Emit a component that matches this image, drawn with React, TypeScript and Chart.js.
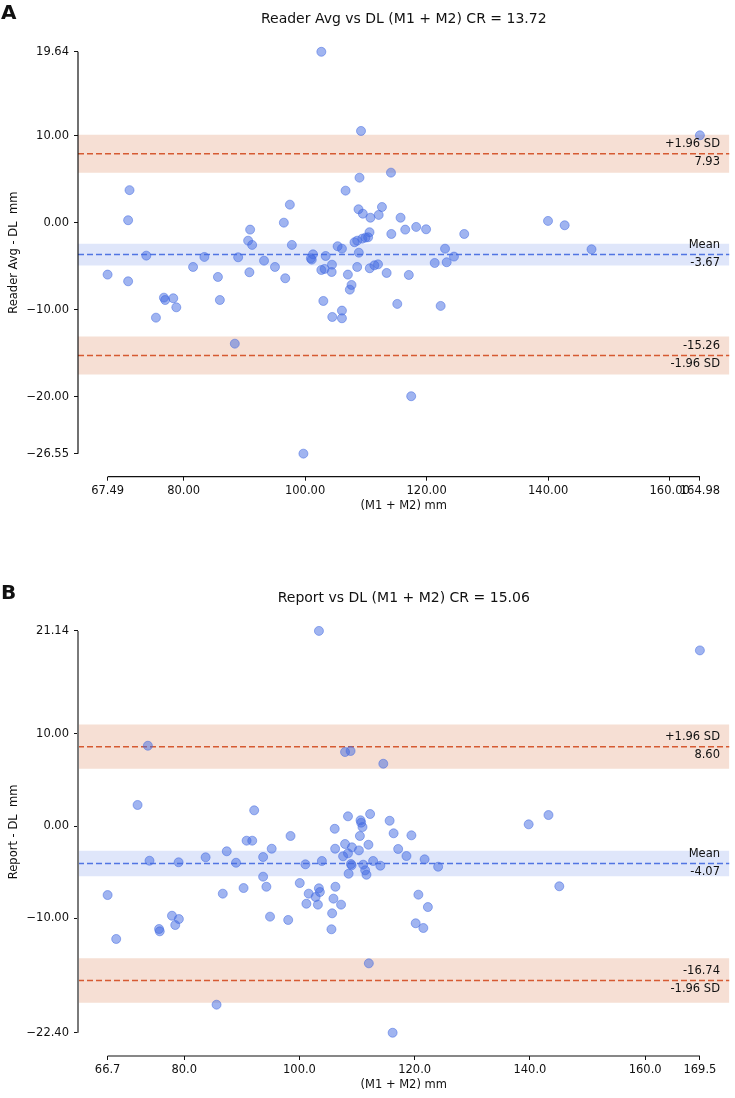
import React, { useEffect, useRef } from "react";
import { Chart, registerables } from "chart.js";
Chart.register(...registerables);

const FONT = "'DejaVu Sans', 'Liberation Sans', sans-serif";

// ---------- Panel A: Reader Avg vs DL ----------
const aAvg = [
  102.67, 109.2, 164.98, 114.13, 108.95, 71.1, 106.66, 97.49, 112.65, 108.79,
  109.5, 112.11, 110.75, 115.71, 70.87, 139.98, 96.5, 142.72, 118.28, 119.91,
  90.95, 116.48, 110.6, 114.19, 126.19, 110.37, 109.94, 109.4, 90.62, 108.57,
  108.13, 91.28, 97.82, 105.35, 106.06, 123.03, 147.14, 108.84, 101.3, 73.86,
  103.38, 124.5, 83.42, 88.98, 100.95, 101.1, 93.24, 123.3, 121.33, 112.0,
  104.42, 111.4, 95.04, 81.56, 108.57, 110.64, 103.2, 102.67, 104.37, 90.83,
  113.42, 67.49, 107.04, 117.07, 85.65, 96.73, 70.87, 107.64, 107.36, 76.76,
  78.3, 76.97, 85.97, 103.0, 115.17, 122.31, 78.8, 106.06, 104.47, 75.45,
  106.06, 88.43, 117.46, 99.72,
];
const aDiff = [
  19.64, 10.54, 10.04, 5.75, 5.17, 3.74, 3.68, 2.07, 1.8, 1.54,
  1.03, 0.89, 0.57, 0.57, 0.28, 0.2, 0.0, -0.3, -0.49, -0.76,
  -0.8, -0.8, -1.1, -1.3, -1.3, -1.68, -1.72, -1.84, -2.07, -2.07,
  -2.25, -2.56, -2.56, -2.71, -2.99, -2.99, -3.06, -3.45, -3.64, -3.79,
  -3.83, -3.9, -3.94, -3.98, -4.1, -4.25, -4.37, -4.55, -4.63, -4.79,
  -4.83, -4.9, -5.09, -5.09, -5.09, -5.24, -5.32, -5.44, -5.67, -5.7,
  -5.78, -5.97, -5.97, -6.01, -6.24, -6.39, -6.74, -7.16, -7.7, -8.62,
  -8.69, -8.89, -8.89, -9.0, -9.34, -9.57, -9.73, -10.11, -10.84, -10.92,
  -10.99, -13.91, -19.95, -26.55,
];
const aXTicks = [67.49, 80, 100, 120, 140, 160, 164.98];
const aYTicks = [-26.55, -20, -10, 0, 10, 19.64];
const aStats = { mean: -3.67, upper: 7.93, lower: -15.26, meanCI: 1.25, loaCI: 2.18 };

// ---------- Panel B: Report vs DL ----------
const bAvg = [
  103.38, 169.5, 73.69, 108.87, 107.91, 114.55, 71.9, 92.14, 112.26, 143.22,
  108.42, 110.6, 115.65, 110.71, 139.78, 110.94, 106.12, 116.34, 119.43, 110.49,
  98.45, 90.82, 91.8, 107.91, 111.97, 109.11, 106.19, 95.18, 117.13, 110.32,
  87.38, 108.42, 118.57, 107.57, 93.69, 83.71, 121.72, 73.97, 103.89, 112.78,
  79.02, 88.99, 108.94, 101.03, 111.06, 109.05, 114.04, 124.07, 111.4, 108.53,
  111.63, 93.69, 100.05, 145.1, 94.26, 106.24, 90.3, 103.37, 103.54, 86.69,
  101.6, 120.64, 66.7, 102.8, 105.9, 101.2, 103.2, 107.22, 122.29, 105.67,
  77.87, 94.89, 79.07, 98.04, 120.17, 78.44, 121.5, 75.63, 105.55, 75.75,
  68.19, 112.04, 85.61, 116.17,
];
const bDiff = [
  21.14, 19.03, 8.7, 8.13, 8.02, 6.75, 2.28, 1.7, 1.3, 1.19,
  1.05, 0.62, 0.57, 0.36, 0.18, -0.11, -0.3, -0.79, -1.01, -1.08,
  -1.08, -1.59, -1.59, -1.95, -2.03, -2.31, -2.46, -2.46, -2.49, -2.64,
  -2.74, -2.96, -3.25, -3.28, -3.36, -3.39, -3.61, -3.76, -3.79, -3.79,
  -3.93, -3.98, -4.12, -4.15, -4.19, -4.26, -4.3, -4.41, -4.8, -5.17,
  -5.28, -5.49, -6.18, -6.53, -6.58, -6.58, -6.72, -6.75, -7.15, -7.33,
  -7.33, -7.44, -7.48, -7.69, -7.87, -8.42, -8.52, -8.52, -8.78, -9.46,
  -9.72, -9.82, -10.08, -10.18, -10.54, -10.73, -11.05, -11.16, -11.19, -11.41,
  -12.24, -14.88, -19.36, -22.4,
];
const bXTicks = [66.7, 80, 100, 120, 140, 160, 169.5];
const bYTicks = [-22.4, -10, 0, 10, 21.14];
const bStats = { mean: -4.07, upper: 8.6, lower: -16.74, meanCI: 1.38, loaCI: 2.4 };

const W = 735;
const H = 549;

type Spec = {
  letter: string;
  title: string;
  yLabel: string;
  xs: number[];
  ys: number[];
  xTicks: number[];
  yTicks: number[];
  xDec: number;
  yDec: number;
  xRange: [number, number];
  yRange: [number, number];
  stats: { mean: number; upper: number; lower: number; meanCI: number; loaCI: number };
  areaTop: number;
  areaBottom: number;
  titleY: number;
  letterY: number;
  xLabelY: number;
  ySpineColor: string;
  ySpineWidth: number;
};

const PT = "rgba(65,105,225,0.5)";
const MEAN_LINE = "rgba(65,105,225,0.9)";
const MEAN_BAND = "rgba(65,105,225,0.17)";
const LOA_LINE = "#d65a32";
const LOA_BAND = "rgba(214,110,60,0.22)";

function fmt(v: number, dec: number) {
  const s = Math.abs(v).toFixed(dec);
  return v < 0 ? "\u2212" + s : s;
}

function decor(s: Spec) {
  return {
    id: "decor" + s.letter,
    afterDraw(chart: any) {
      const ctx = chart.ctx;
      const xs = chart.scales.x;
      const ys = chart.scales.y;
      const area = chart.chartArea;
      ctx.save();
      // spines (bounded to tick range)
      ctx.lineCap = "butt";
      ctx.strokeStyle = s.ySpineColor;
      ctx.lineWidth = s.ySpineWidth;
      ctx.beginPath();
      ctx.moveTo(area.left, ys.getPixelForValue(Math.max(...s.yTicks)));
      ctx.lineTo(area.left, ys.getPixelForValue(Math.min(...s.yTicks)));
      ctx.stroke();
      ctx.strokeStyle = "#111";
      ctx.lineWidth = 1.2;
      ctx.beginPath();
      ctx.moveTo(xs.getPixelForValue(Math.min(...s.xTicks)), area.bottom);
      ctx.lineTo(xs.getPixelForValue(Math.max(...s.xTicks)), area.bottom);
      ctx.stroke();

      ctx.fillStyle = "#111";
      const cx = (area.left + area.right) / 2;
      // title
      ctx.font = `14px ${FONT}`;
      ctx.textAlign = "center";
      ctx.textBaseline = "alphabetic";
      ctx.fillText(s.title, cx, s.titleY);
      // panel letter
      ctx.font = `bold 20px ${FONT}`;
      ctx.textAlign = "left";
      ctx.fillText(s.letter, 1, s.letterY);
      // x label
      ctx.font = `11.5px ${FONT}`;
      ctx.textAlign = "center";
      ctx.textBaseline = "middle";
      ctx.fillText("(M1 + M2) mm", cx, s.xLabelY);
      // y label
      ctx.save();
      ctx.translate(14, (area.top + area.bottom - 3) / 2);
      ctx.rotate(-Math.PI / 2);
      ctx.fillText(s.yLabel, 0, 0);
      ctx.restore();
      // annotations
      ctx.textAlign = "right";
      const rx = 720;
      const put = (above: string, below: string, v: number) => {
        const py = ys.getPixelForValue(v);
        ctx.fillText(above, rx, py - 9.5);
        ctx.fillText(below, rx, py + 8.5);
      };
      put("+1.96 SD", s.stats.upper.toFixed(2), s.stats.upper);
      put("Mean", s.stats.mean.toFixed(2), s.stats.mean);
      put(s.stats.lower.toFixed(2), "-1.96 SD", s.stats.lower);
      ctx.restore();
    },
  };
}

function buildConfig(s: Spec): any {
  const [xmin, xmax] = s.xRange;
  const hline = (y: number) => [
    { x: xmin, y },
    { x: xmax, y },
  ];
  const band = (c: number, hw: number, color: string) => ({
    type: "line",
    data: hline(c + hw),
    fill: { value: c - hw },
    backgroundColor: color,
    borderWidth: 0,
    borderColor: "rgba(0,0,0,0)",
    pointRadius: 0,
    order: 3,
  });
  const line = (c: number, color: string) => ({
    type: "line",
    data: hline(c),
    fill: false,
    borderColor: color,
    borderWidth: 1.5,
    borderDash: [6, 3],
    pointRadius: 0,
    order: 2,
  });
  const pts = s.xs.map((x, i) => ({ x, y: s.ys[i] }));
  const tickFont = { family: FONT, size: 11.5 };
  return {
    type: "scatter",
    data: {
      datasets: [
        band(s.stats.upper, s.stats.loaCI, LOA_BAND),
        band(s.stats.lower, s.stats.loaCI, LOA_BAND),
        band(s.stats.mean, s.stats.meanCI, MEAN_BAND),
        line(s.stats.upper, LOA_LINE),
        line(s.stats.lower, LOA_LINE),
        line(s.stats.mean, MEAN_LINE),
        {
          type: "scatter",
          data: pts,
          backgroundColor: PT,
          borderColor: PT,
          borderWidth: 1,
          pointRadius: 4.5,
          order: 0,
        },
      ],
    },
    options: {
      responsive: false,
      animation: false,
      devicePixelRatio: 1,
      layout: { padding: { top: s.areaTop, right: 2, left: 0, bottom: 0 } },
      plugins: {
        legend: { display: false },
        tooltip: { enabled: false },
        title: { display: false },
      },
      scales: {
        x: {
          type: "linear",
          min: xmin,
          max: xmax,
          afterFit: (sc: any) => {
            sc.height = H - s.areaBottom;
          },
          afterBuildTicks: (sc: any) => {
            sc.ticks = s.xTicks.map((v) => ({ value: v }));
          },
          ticks: {
            autoSkip: false,
            maxRotation: 0,
            minRotation: 0,
            padding: 3,
            color: "#111",
            font: tickFont,
            callback: (v: any) => fmt(Number(v), s.xDec),
          },
          grid: { drawOnChartArea: false, drawTicks: true, tickLength: 4, color: "#111", lineWidth: 1 },
          border: { display: false },
        },
        y: {
          type: "linear",
          min: s.yRange[0],
          max: s.yRange[1],
          afterFit: (sc: any) => {
            sc.width = 78;
          },
          afterBuildTicks: (sc: any) => {
            sc.ticks = s.yTicks.map((v) => ({ value: v }));
          },
          ticks: {
            autoSkip: false,
            padding: 5,
            color: "#111",
            font: tickFont,
            callback: (v: any) => fmt(Number(v), s.yDec),
          },
          grid: { drawOnChartArea: false, drawTicks: true, tickLength: 4, color: "#111", lineWidth: 1 },
          border: { display: false },
        },
      },
    },
    plugins: [decor(s)],
  };
}

const specA: Spec = {
  letter: "A",
  title: "Reader Avg vs DL (M1 + M2) CR = 13.72",
  yLabel: "Reader Avg - DL  mm",
  xs: aAvg,
  ys: aDiff,
  xTicks: aXTicks,
  yTicks: aYTicks,
  xDec: 2,
  yDec: 2,
  xRange: [62.62, 169.85],
  yRange: [-29.2, 21.95],
  stats: aStats,
  areaTop: 31.7,
  areaBottom: 476.7,
  titleY: 22.7,
  letterY: 18.5,
  xLabelY: 506,
  ySpineColor: "#111",
  ySpineWidth: 1.2,
};

const specB: Spec = {
  letter: "B",
  title: "Report vs DL (M1 + M2) CR = 15.06",
  yLabel: "Report - DL  mm",
  xs: bAvg,
  ys: bDiff,
  xTicks: bXTicks,
  yTicks: bYTicks,
  xDec: 1,
  yDec: 2,
  xRange: [61.56, 174.64],
  yRange: [-24.92, 23.32],
  stats: bStats,
  areaTop: 61.8,
  areaBottom: 507,
  titleY: 52.7,
  letterY: 50,
  xLabelY: 536,
  ySpineColor: "#7a7a7a",
  ySpineWidth: 2,
};

function Panel({ spec, top }: { spec: Spec; top: number }) {
  const ref = useRef<HTMLCanvasElement>(null);
  useEffect(() => {
    const chart = new Chart(ref.current as HTMLCanvasElement, buildConfig(spec));
    return () => chart.destroy();
  }, [spec]);
  return (
    <canvas
      ref={ref}
      width={W}
      height={H}
      style={{ position: "absolute", left: 0, top, width: W, height: H, display: "block" }}
    />
  );
}

export default function App() {
  return (
    <div style={{ position: "absolute", left: 0, top: 0, width: W, height: 2 * H, background: "#fff" }}>
      <Panel spec={specA} top={0} />
      <Panel spec={specB} top={H} />
    </div>
  );
}
